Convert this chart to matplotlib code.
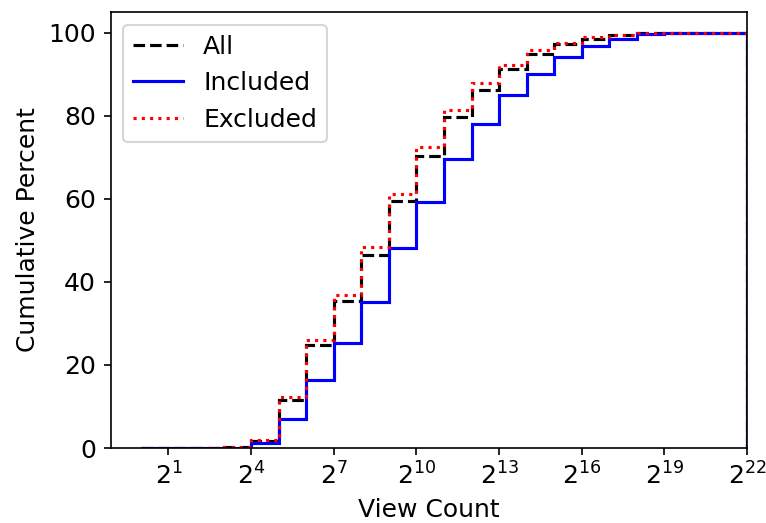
import numpy as np
import matplotlib
matplotlib.use("Agg")
import matplotlib.pyplot as plt

# view-count bins: powers of two from 2^0 up to 2^22
bin_exponents = np.arange(0, 23)

# cumulative percent of videos at the end of each bin [2^k, 2^(k+1))
cum_all = [0.0, 0.02, 0.05, 0.15, 1.7, 11.5, 24.8, 35.3, 46.4, 59.4, 70.4,
           79.6, 86.2, 91.2, 94.8, 97.3, 98.6, 99.4, 99.9, 100.0, 100.0, 100.0]
cum_included = [0.0, 0.0, 0.02, 0.08, 1.1, 7.0, 16.3, 25.4, 35.1, 48.2, 59.2,
                69.6, 78.0, 84.9, 90.0, 94.2, 96.7, 98.4, 99.8, 100.0, 100.0, 100.0]
cum_excluded = [0.0, 0.03, 0.08, 0.2, 1.85, 12.2, 26.1, 36.8, 48.5, 61.2, 72.4,
                81.5, 87.8, 92.3, 95.8, 97.6, 98.9, 99.5, 99.9, 100.0, 100.0, 100.0]

xtick_exponents = [1, 4, 7, 10, 13, 16, 19, 22]

DPI = 150
fig = plt.figure(figsize=(766 / DPI, 523 / DPI), dpi=DPI)
ax = fig.add_axes([0.1444, 0.1434, 0.9752 - 0.1444, 0.977 - 0.1434])

edges = 2.0 ** bin_exponents
ax.stairs(cum_all, edges, baseline=0, color="black", linestyle="--", linewidth=1.5, label="All")
ax.stairs(cum_included, edges, baseline=0, color="blue", linestyle="-", linewidth=1.5, label="Included")
ax.stairs(cum_excluded, edges, baseline=0, color="red", linestyle=":", linewidth=1.5, label="Excluded")

ax.set_xscale("log", base=2)
ax.set_xlim(2.0 ** -1.1, 2.0 ** 22)
ax.set_ylim(0, 105)
ax.set_xticks([2.0 ** e for e in xtick_exponents])
ax.set_xticklabels([f"$2^{{{e}}}$" for e in xtick_exponents])
ax.xaxis.set_minor_locator(matplotlib.ticker.NullLocator())
ax.set_yticks([0, 20, 40, 60, 80, 100])
ax.tick_params(labelsize=12)

ax.set_xlabel("View Count", fontsize=12)
ax.set_ylabel("Cumulative Percent", fontsize=12)

# legend uses plain lines, not the step patches
handles = [
    plt.Line2D([], [], color="black", linestyle="--", linewidth=1.5),
    plt.Line2D([], [], color="blue", linestyle="-", linewidth=1.5),
    plt.Line2D([], [], color="red", linestyle=":", linewidth=1.5),
]
ax.legend(handles, ["All", "Included", "Excluded"], loc="upper left", fontsize=12)

fig.savefig("out.png", dpi=DPI)
